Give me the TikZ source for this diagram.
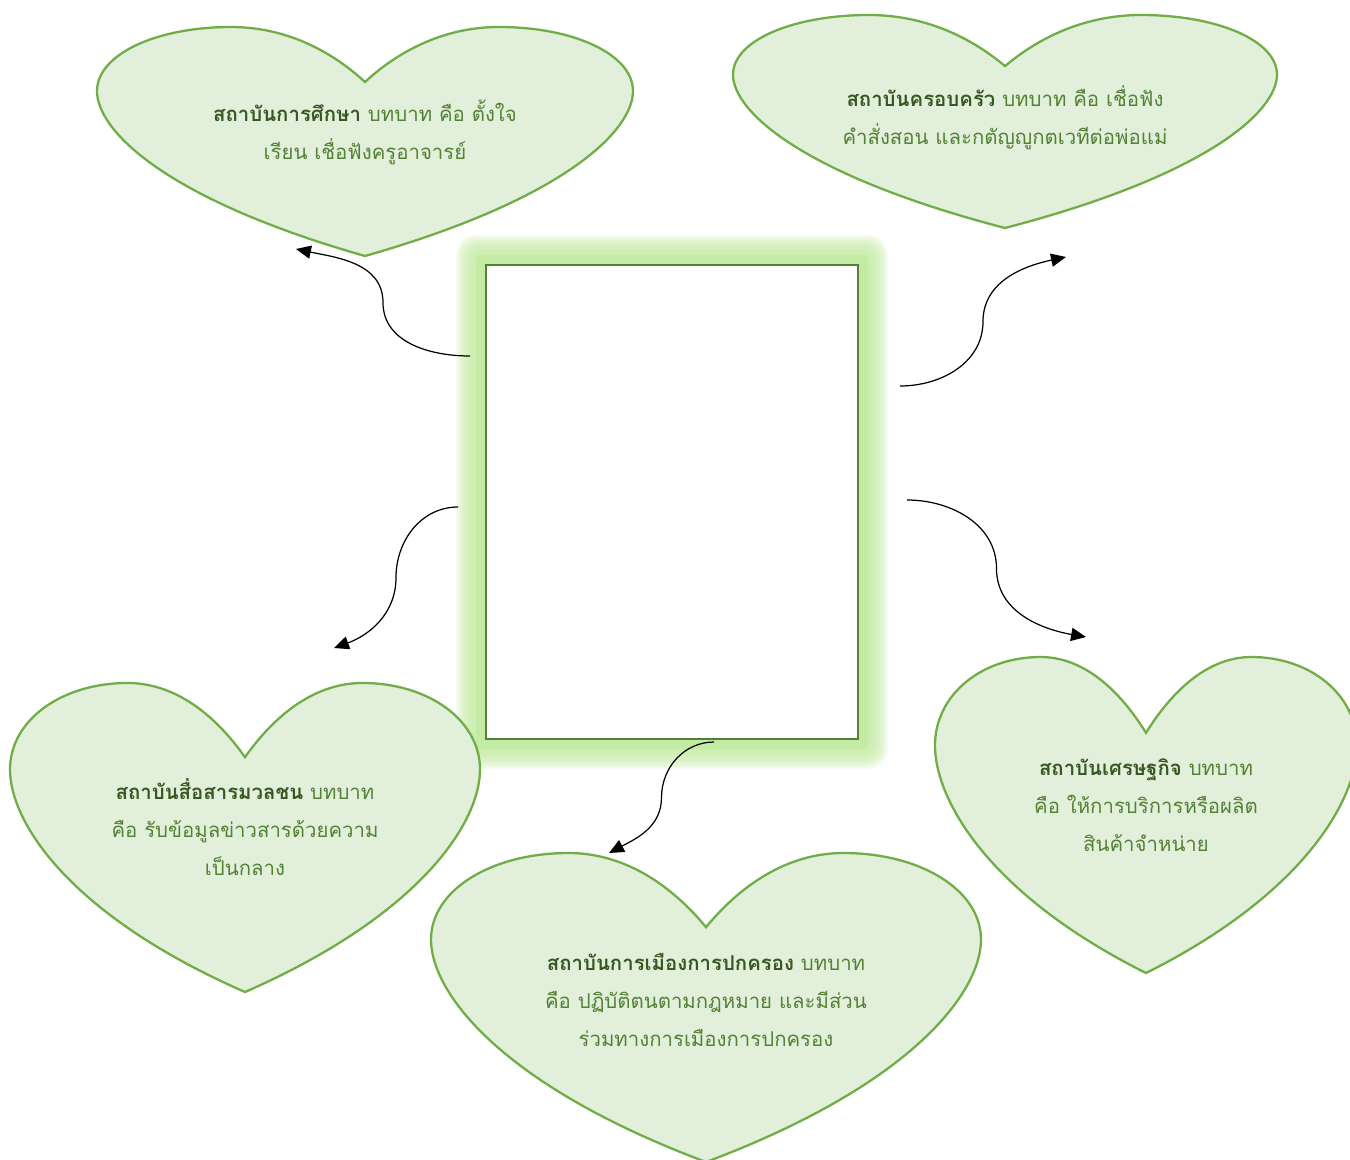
\documentclass[tikz,border=0pt]{standalone}
\usepackage{fontspec}
\usepackage{xcolor}
\usepackage{tikz}
\usetikzlibrary{arrows.meta, calc}

\newfontfamily\thaifont[Script=Thai]{Loma}
\definecolor{heartfill}{HTML}{E2EFDA}
\definecolor{heartedge}{HTML}{70AD47}
\definecolor{boxedge}{HTML}{538135}
\definecolor{glowgreen}{HTML}{C4EBA4}
\definecolor{titlegreen}{HTML}{385723}
\definecolor{rolegreen}{HTML}{548235}
\newcommand{\instname}[1]{\textbf{\color{titlegreen}#1}}

\begin{document}
\begin{tikzpicture}[
    x=0.02cm, y=0.02cm,
    heart/.pic={
        \filldraw[fill=heartfill, draw=heartedge, line width=1.3pt]
        (0,-0.24) .. controls (-0.13,-0.1) and (-0.3,0) .. (-0.5,0)
        .. controls (-0.78,0) and (-1,-0.12) .. (-1,-0.28)
        .. controls (-1,-0.45) and (-0.75,-0.75) .. (0,-1)
        .. controls (0.75,-0.75) and (1,-0.45) .. (1,-0.28)
        .. controls (1,-0.12) and (0.78,0) .. (0.5,0)
        .. controls (0.3,0) and (0.13,-0.1) .. (0,-0.24) -- cycle;
    },
    role/.style={font=\thaifont\fontsize{11.6}{21.5}\selectfont, text=rolegreen, align=center},
    frame/.style={rectangle, draw=boxedge, line width=1.4pt, fill=white, minimum width=7.44cm, minimum height=9.48cm, inner sep=0pt},
    link/.style={-{Triangle[length=8.5pt, width=7.5pt]}, line width=0.7pt}
]
    \useasboundingbox (0,0) rectangle (1350,-1160);

    % Centre - glowing empty frame
    \foreach \d in {30,28,...,12}
        \fill[glowgreen, opacity=0.18, rounded corners={\d*0.4pt}] ({486-\d},{-265+\d}) rectangle ({858+\d},{-739-\d});
    \fill[glowgreen, rounded corners=3pt] (476,-255) rectangle (868,-749);
    \node[frame] (centre) at (672,-502) {};

    % Hearts
    \pic[xscale=268, yscale=229] at (365,-27) {heart};
    \pic[xscale=272, yscale=213] at (1005,-15) {heart};
    \pic[xscale=235, yscale=309] at (245,-683) {heart};
    \pic[xscale=275, yscale=309] at (706,-853) {heart};
    \pic[xscale=211, yscale=316] at (1146,-657) {heart};

    % Roles
    \node[role] (edu) at (365,-132) {\instname{สถาบันการศึกษา} บทบาท คือ ตั้งใจ\\เรียน เชื่อฟังครูอาจารย์};
    \node[role] (family) at (1005,-118) {\instname{สถาบันครอบครัว} บทบาท คือ เชื่อฟัง\\คำสั่งสอน และกตัญญูกตเวทีต่อพ่อแม่};
    \node[role] (media) at (245,-827) {\instname{สถาบันสื่อสารมวลชน} บทบาท\\คือ รับข้อมูลข่าวสารด้วยความ\\เป็นกลาง};
    \node[role] (politics) at (706,-1000) {\instname{สถาบันการเมืองการปกครอง} บทบาท\\คือ ปฏิบัติตนตามกฎหมาย และมีส่วน\\ร่วมทางการเมืองการปกครอง};
    \node[role] (economy) at (1146,-805) {\instname{สถาบันเศรษฐกิจ} บทบาท\\คือ ให้การบริการหรือผลิต\\สินค้าจำหน่าย};

    % Connector ends
    \coordinate (edu-from) at (470,-356);
    \coordinate (edu-to) at (296,-249);
    \coordinate (family-from) at (900,-386);
    \coordinate (family-to) at (1066,-257);
    \coordinate (media-from) at (458,-507);
    \coordinate (media-to) at (334,-648);
    \coordinate (economy-from) at (907,-500);
    \coordinate (economy-to) at (1086,-637);
    \coordinate (politics-from) at (714,-742);
    \coordinate (politics-to) at (609,-853);

    % Arrows
    \draw[link] (edu-from) to[out=180,in=-90] ($(edu-from)!.5!(edu-to)$) to[out=90,in=-12] (edu-to);
    \draw[link] (family-from) to[out=0,in=-90] ($(family-from)!.5!(family-to)$) to[out=90,in=192] (family-to);
    \draw[link] (media-from) to[out=180,in=90] ($(media-from)!.5!(media-to)$) to[out=-90,in=20] (media-to);
    \draw[link] (economy-from) to[out=0,in=90] ($(economy-from)!.5!(economy-to)$) to[out=-90,in=170] (economy-to);
    \draw[link] (politics-from) to[out=180,in=90] ($(politics-from)!.5!(politics-to)$) to[out=-90,in=28] (politics-to);

\end{tikzpicture}
\end{document}
